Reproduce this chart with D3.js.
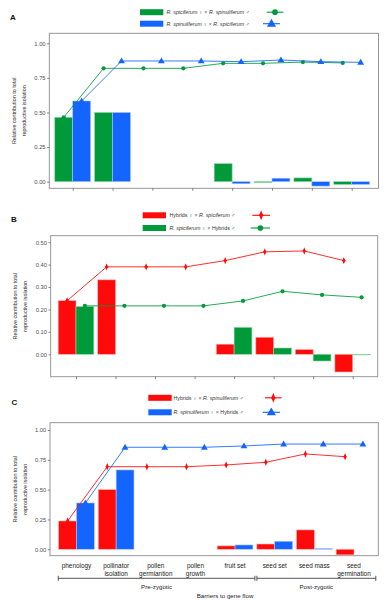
<!DOCTYPE html>
<html><head><meta charset="utf-8">
<script src="https://cdn.jsdelivr.net/npm/d3@7"></script>
<style>html,body{margin:0;padding:0;background:#fff;} svg{display:block;font-family:"Liberation Sans",Arial,"DejaVu Sans",sans-serif;}</style>
</head><body>
<svg id="chart" width="390" height="600"></svg>
<script>
// ---------- DATA ----------
const categories = ["phenology","pollinator\nisolation","pollen\ngermiantion","pollen\ngrowth","fruit set","seed set","seed mass","seed\ngermination"];

// Panel A
const aSpicSpinBars = [0.465, 0.50, 0, 0, 0.13, -0.006, 0.027, -0.02];
const aSpinSpicBars = [0.583, 0.50, 0, 0, -0.015, 0.025, -0.032, -0.02];
const aSpicSpinCum  = [0.465, 0.819, 0.819, 0.819, 0.855, 0.855, 0.864, 0.858];
const aSpinSpicCum  = [0.583, 0.872, 0.872, 0.872, 0.867, 0.879, 0.867, 0.862];
const aTicks = [0, 0.25, 0.5, 0.75, 1.0];

// Panel B
const bHybSpicBars = [0.239, 0.332, 0, 0, 0.045, 0.076, 0.021, -0.079];
const bSpicHybBars = [0.213, 0, 0, 0, 0.120, 0.028, -0.030, -0.003];
const bHybSpicCum  = [0.239, 0.390, 0.390, 0.390, 0.418, 0.457, 0.461, 0.418];
const bSpicHybCum  = [0.216, 0.216, 0.216, 0.216, 0.238, 0.281, 0.265, 0.254];
const bTicks = [0, 0.1, 0.2, 0.3, 0.4, 0.5];

// Panel C
const cHybSpinBars = [0.237, 0.50, 0, 0, 0.028, 0.044, 0.162, -0.047];
const cSpinHybBars = [0.388, 0.665, 0, 0, 0.036, 0.067, 0.006, 0];
const cHybSpinCum  = [0.237, 0.692, 0.692, 0.692, 0.707, 0.729, 0.799, 0.776];
const cSpinHybCum  = [0.388, 0.855, 0.855, 0.855, 0.866, 0.882, 0.882, 0.882];
const cTicks = [0, 0.25, 0.5, 0.75, 1.0];

const barrierGroups = ["Pre-zygotic","Post-zygotic"];

// ---------- STYLE ----------
const COL = {green:"#009a3a", blue:"#1464ff", red:"#ff0a0a"};
const LIGHT = {green:"#8fd6a6", blue:"#a9c6ff", red:"#ffaaaa"};

const svg = d3.select("#chart");

const legendA = [
  {parts:[["R. spiciferum",1],[" ♀ × ",0],["R. spinuliferum",1],[" ♂",0]]},
  {parts:[["R. spinuliferum",1],[" ♀ × ",0],["R. spiciferum",1],[" ♂",0]]}];
const legendB = [
  {parts:[["Hybrids",0],[" ♀ × ",0],["R. spiciferum",1],[" ♂",0]]},
  {parts:[["R. spiciferum",1],[" ♀ × ",0],["Hybrids",0],[" ♂",0]]}];
const legendC = [
  {parts:[["Hybrids",0],[" ♀ × ",0],["R. spinuliferum",1],[" ♂",0]]},
  {parts:[["R. spinuliferum",1],[" ♀ × ",0],["Hybrids",0],[" ♂",0]]}];

const panels = [
  {label:"A", lx:10, ly:19.5, frame:{x0:49.3,x1:378.5,y0:33.3,y1:188.3}, xr:[72.7,351.7],
   ydom:[-0.048,1.072], ticks:aTicks, xticks:true, xlabels:false,
   series:[{bars:aSpicSpinBars,cum:aSpicSpinCum,col:"green",shape:"circle"},
           {bars:aSpinSpicBars,cum:aSpinSpicCum,col:"blue",shape:"triangle"}],
   legend:{items:legendA, rectX:140, rectW:23.3, rows:[12.2,23.7], textX:166.5, sym:[[266.7,283.3],[263,280]]}},
  {label:"B", lx:11, ly:222.3, frame:{x0:50.7,x1:377.7,y0:235.7,y1:376.7}, xr:[76,352.7],
   ydom:[-0.1,0.529], ticks:bTicks, xticks:true, xlabels:false,
   series:[{bars:bHybSpicBars,cum:bHybSpicCum,col:"red",shape:"cross"},
           {bars:bSpicHybBars,cum:bSpicHybCum,col:"green",shape:"circle"}],
   legend:{items:legendB, rectX:142.7, rectW:23.3, rows:[215.3,228], textX:169.5, sym:[[252.3,270],[250.7,270]]}},
  {label:"C", lx:11.5, ly:404.8, frame:{x0:50,x1:378.3,y0:422.7,y1:555.7}, xr:[76.5,354],
   ydom:[-0.054,1.061], ticks:cTicks, xticks:false, xlabels:true,
   series:[{bars:cHybSpinBars,cum:cHybSpinCum,col:"red",shape:"cross"},
           {bars:cSpinHybBars,cum:cSpinHybCum,col:"blue",shape:"triangle"}],
   legend:{items:legendC, rectX:148.3, rectW:23.4, rows:[397.8,412.3], textX:173.5, sym:[[265,281.7],[262.7,280]]}}
];

function marker(g, shape, col, x, y, big){
  const s = big ? 1.35 : 1;
  if(shape==="circle"){
    g.append("circle").attr("cx",x).attr("cy",y).attr("r",2.1*s).attr("fill",COL[col]);
  } else if(shape==="triangle"){
    g.append("path").attr("d", d3.symbol().type(d3.symbolTriangle).size(20*s*s)())
      .attr("transform",`translate(${x},${y+0.4})`).attr("fill",COL[col]);
  } else {
    g.append("path").attr("d", d3.symbol().type(d3.symbolDiamond).size(7*s*s)())
      .attr("transform",`translate(${x},${y}) scale(1,1.5)`).attr("fill",COL[col]);
    g.append("path").attr("d", d3.symbol().type(d3.symbolCross).size(6*s*s)())
      .attr("transform",`translate(${x},${y})`).attr("fill",COL[col]);
  }
}

panels.forEach(p => {
  const g = svg.append("g");
  const f = p.frame;
  const x = d3.scalePoint().domain(d3.range(categories.length)).range(p.xr);
  const step = x.step();
  const y = d3.scaleLinear().domain(p.ydom).range([f.y1, f.y0]);
  const bw = step*0.45;

  // frame
  g.append("rect").attr("x",f.x0).attr("y",f.y0).attr("width",f.x1-f.x0).attr("height",f.y1-f.y0)
    .attr("fill","none").attr("stroke","#8c8c8c").attr("stroke-width",0.9);

  // y axis
  const ya = d3.axisLeft(y).tickValues(p.ticks).tickFormat(d3.format(".2f")).tickSize(2.2).tickPadding(1.5);
  const yg = g.append("g").attr("transform",`translate(${f.x0},0)`).call(ya);
  yg.select(".domain").remove();
  yg.selectAll("line").attr("stroke","#555").attr("stroke-width",0.7);
  yg.selectAll("text").attr("font-size",5.8).attr("fill","#505050").attr("font-family",null);

  // x ticks
  if(p.xticks){
    const xa = d3.axisBottom(x).tickSize(2.5).tickFormat("");
    const xg = g.append("g").attr("transform",`translate(0,${f.y1})`).call(xa);
    xg.select(".domain").remove();
    xg.selectAll("line").attr("stroke","#555").attr("stroke-width",0.7);
  }

  // y title
  const yc = (f.y0+f.y1)/2;
  const tx = f.x0 - 33.5;
  const yt = g.append("text").attr("transform",`translate(${tx},${yc}) rotate(-90)`)
    .attr("text-anchor","middle").attr("font-size",5.4).attr("fill","#333");
  yt.append("tspan").attr("x",0).attr("dy",0).text("Relative contribution to total");
  yt.append("tspan").attr("x",0).attr("dy",10.3).text("reproductive isolation");

  // bars
  p.series.forEach((s, si) => {
    const off = si===0 ? -bw/2 : bw/2;
    g.append("g").selectAll("rect").data(s.bars).join("rect")
      .attr("x",(d,i)=>x(i)+off-bw/2)
      .attr("width",bw)
      .attr("y",d=>y(Math.max(0,d)))
      .attr("height",d=>Math.abs(y(d)-y(0)))
      .attr("fill",COL[s.col])
      .attr("stroke",LIGHT[s.col]).attr("stroke-width",0.6);
  });

  // lines + points
  p.series.forEach((s, si) => {
    const off = si===0 ? -bw/2 : bw/2;
    const line = d3.line().x((d,i)=>x(i)+off).y(d=>y(d));
    g.append("path").datum(s.cum).attr("d",line).attr("fill","none")
      .attr("stroke",COL[s.col]).attr("stroke-width",1).attr("stroke-opacity",0.85);
    const mg = g.append("g");
    s.cum.forEach((d,i)=>marker(mg, s.shape, s.col, x(i)+off, y(d), false));
  });

  // panel label
  g.append("text").attr("x",p.lx).attr("y",p.ly).attr("font-size",8).attr("font-weight","bold").attr("fill","#111").text(p.label);

  // legend
  const L = p.legend;
  L.items.forEach((it, ri) => {
    const s = p.series[ri];
    const cy = L.rows[ri];
    g.append("rect").attr("x",L.rectX).attr("y",cy-3).attr("width",L.rectW).attr("height",6)
      .attr("fill",COL[s.col]);
    const t = g.append("text").attr("x",L.textX).attr("y",cy+1.9).attr("font-size",5.3).attr("fill","#333");
    it.parts.forEach(pt => {
      const ts = t.append("tspan").text(pt[0]);
      if(pt[1]) ts.attr("font-style","italic");
      if(pt[0].includes("♀")) ts.attr("fill","#666");
    });
    const sx = L.sym[ri];
    g.append("line").attr("x1",sx[0]).attr("x2",sx[1]).attr("y1",cy).attr("y2",cy)
      .attr("stroke",COL[s.col]).attr("stroke-width",1.1);
    marker(g, s.shape, s.col, (sx[0]+sx[1])/2, cy, true);
  });

  // x labels and brackets
  if(p.xlabels){
    const lg = g.append("g");
    categories.forEach((c,i) => {
      const lines = c.split("\n");
      const t = lg.append("text").attr("x",x(i)).attr("y",568).attr("text-anchor","middle")
        .attr("font-size",6.4).attr("fill","#222");
      lines.forEach((ln,k) => t.append("tspan").attr("x",x(i)).attr("dy",k===0?0:7.8).text(ln));
    });
    const by = 578.3;
    const spans = [[x(0)-0.46*step, x(4)+0.5*step],[x(5)-0.45*step, x(7)+0.55*step]];
    spans.forEach((sp, k) => {
      lg.append("line").attr("x1",sp[0]).attr("x2",sp[1]).attr("y1",by).attr("y2",by).attr("stroke","#444").attr("stroke-width",0.9);
      [sp[0],sp[1]].forEach(xx => lg.append("line").attr("x1",xx).attr("x2",xx).attr("y1",by-2.5).attr("y2",by+2.5).attr("stroke","#444").attr("stroke-width",0.9));
      lg.append("text").attr("x",(sp[0]+sp[1])/2).attr("y",588.5).attr("text-anchor","middle")
        .attr("font-size",6.2).attr("fill","#222").text(barrierGroups[k]);
    });
    lg.append("text").attr("x",225).attr("y",598.3).attr("text-anchor","middle")
      .attr("font-size",6.2).attr("fill","#222").text("Barriers to gene flow");
  }
});
</script>
</body></html>
